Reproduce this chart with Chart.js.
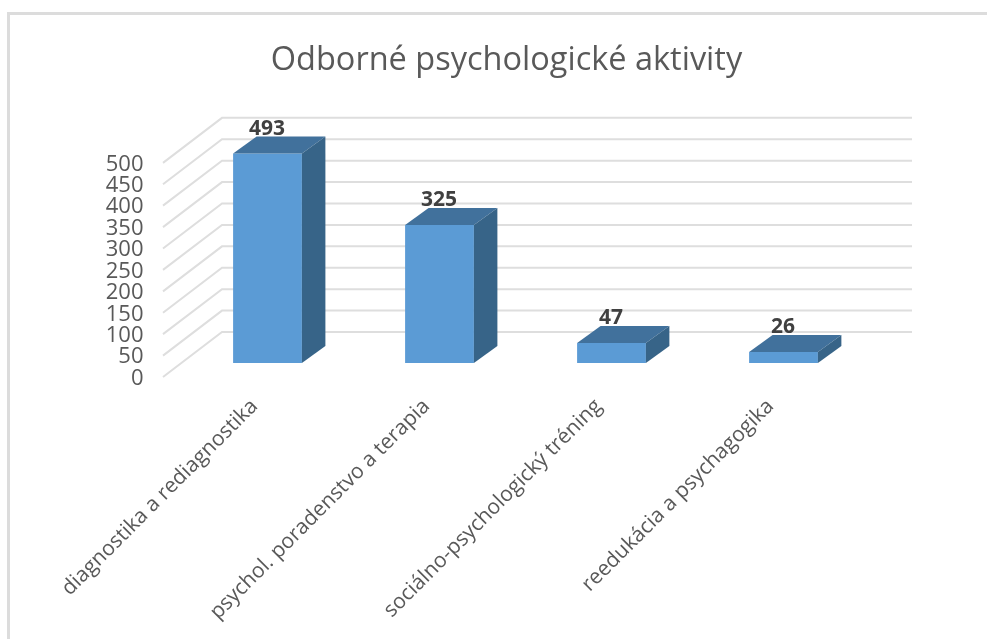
<!DOCTYPE html>
<html>
<head>
<meta charset="utf-8">
<script src="https://cdn.jsdelivr.net/npm/chart.js@4"></script>
<style>
  html, body { margin: 0; padding: 0; background: #fff; overflow: hidden; }
  #frame { position: absolute; left: 7px; top: 12px; right: 0; bottom: 0; border-top: 3px solid #dcdcdc; border-left: 3px solid #dcdcdc; }
  #plot { position: absolute; left: 0; top: 0; }
</style>
</head>
<body>
<div id="frame"></div>
<canvas id="plot" width="987" height="639"></canvas>
<script>
const chartTitle = 'Odborné psychologické aktivity';
const categories = ['diagnostika a rediagnostika', 'psychol. poradenstvo a terapia', 'sociálno-psychologický tréning', 'reedukácia a psychagogika'];
const values = [493, 325, 47, 26];

// the floor sits in the middle of the 3d box, so bars start a bit above the tick labels
const floorLift = 33;
const wall = { dx: 59, dy: -45, right: 912 };
const barDepth = { dx: 23.5, dy: -17 };

const fontFamily = '"Open Sans", sans-serif';

const box3d = {
    id: 'box3d',
    beforeDatasetsDraw(chart) {
        const ctx = chart.ctx;
        const y = chart.scales.y;
        const x0 = 163;
        ctx.save();
        ctx.strokeStyle = '#dedede';
        ctx.lineWidth = 2;
        y.ticks.forEach(t => {
            const py = y.getPixelForValue(t.value);
            ctx.beginPath();
            ctx.moveTo(x0, py);
            ctx.lineTo(x0 + wall.dx, py + wall.dy);
            ctx.lineTo(wall.right, py + wall.dy);
            ctx.stroke();
        });
        ctx.restore();
    },
    afterDatasetsDraw(chart) {
        const ctx = chart.ctx;
        const meta = chart.getDatasetMeta(0);
        ctx.save();
        meta.data.forEach((bar, i) => {
            const left = bar.x - bar.width / 2;
            const right = bar.x + bar.width / 2;
            const top = bar.y;
            const bottom = bar.base;

            ctx.fillStyle = '#41719c';
            ctx.beginPath();
            ctx.moveTo(left, top);
            ctx.lineTo(left + barDepth.dx, top + barDepth.dy);
            ctx.lineTo(right + barDepth.dx, top + barDepth.dy);
            ctx.lineTo(right, top);
            ctx.closePath();
            ctx.fill();

            ctx.fillStyle = '#376488';
            ctx.beginPath();
            ctx.moveTo(right, top);
            ctx.lineTo(right + barDepth.dx, top + barDepth.dy);
            ctx.lineTo(right + barDepth.dx, bottom + barDepth.dy);
            ctx.lineTo(right, bottom);
            ctx.closePath();
            ctx.fill();

            ctx.fillStyle = '#404040';
            ctx.font = 'bold 21px ' + fontFamily;
            ctx.textAlign = 'center';
            ctx.textBaseline = 'middle';
            ctx.fillText(values[i], bar.x - 0.5, top - 25);
        });
        ctx.restore();
    }
};

new Chart(document.getElementById('plot'), {
    type: 'bar',
    data: {
        labels: categories,
        datasets: [{
            data: values,
            yAxisID: 'bars',
            backgroundColor: '#5b9bd5',
            borderWidth: 0,
            barPercentage: 0.4,
            categoryPercentage: 1,
            clip: false
        }]
    },
    options: {
        responsive: false,
        animation: false,
        layout: { padding: { left: 26, right: 0, top: 0, bottom: 0 } },
        plugins: {
            legend: { display: false },
            tooltip: { enabled: false },
            title: {
                display: true,
                text: chartTitle,
                color: '#595959',
                font: { family: fontFamily, size: 32.5, weight: 'normal' },
                padding: { top: 41, bottom: 40 }
            }
        },
        scales: {
            x: {
                grid: { display: false },
                border: { display: false },
                ticks: {
                    color: '#595959',
                    font: { family: fontFamily, size: 21 },
                    maxRotation: 45,
                    minRotation: 45,
                    padding: 9,
                    labelOffset: -13
                },
                afterFit(scale) { scale.height = 262; }
            },
            y: {
                position: 'left',
                min: 0,
                max: 600,
                grid: { display: false },
                border: { display: false },
                ticks: {
                    stepSize: 50,
                    autoSkip: false,
                    color: '#595959',
                    font: { family: fontFamily, size: 22 },
                    padding: 30,
                    labelOffset: 1.5
                },
                afterBuildTicks(scale) { scale.ticks = scale.ticks.filter(t => t.value <= 500); },
                afterFit(scale) { scale.width = 155.5; }
            },
            bars: {
                position: 'right',
                min: -floorLift,
                max: 605 - floorLift,
                grid: { display: false },
                border: { display: false },
                ticks: { display: false },
                afterFit(scale) { scale.width = 117.5; }
            }
        }
    },
    plugins: [box3d]
});
</script>
</body>
</html>
